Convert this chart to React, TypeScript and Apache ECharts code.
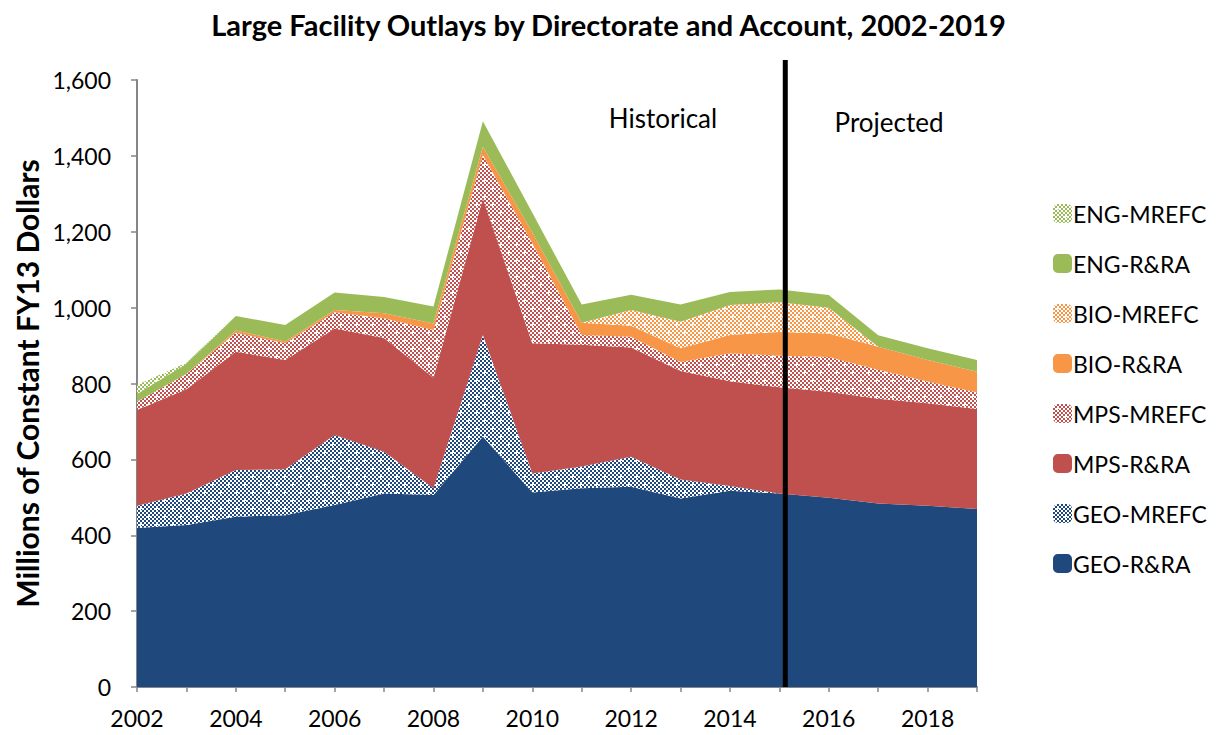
import React, { useEffect, useRef } from "react";
import * as echarts from "echarts";

const years = ["2002","2003","2004","2005","2006","2007","2008","2009","2010","2011","2012","2013","2014","2015","2016","2017","2018","2019"];
const geoRRA = [419,427,449,453,480,510,506,660,513,524,528,497,517,510,499,484,478,469];
const geoMREFC = [59,83,123,121,184,110,18,268,50,57,79,50,13,0,0,0,0,0];
const mpsRRA = [252,275,312,288,281,300,291,360,343,321,288,286,276,280,279,276,270,264];
const mpsMREFC = [22,40,50,44,43,52,126,114,264,26,28,24,74,83,92,76,57,43];
const bioRRA = [0,1,6,5,6,13,17,22,28,32,29,36,48,63,62,61,57,55];
const bioMREFC = [0,0,0,0,0,0,0,0,0,0,42,70,79,78,68,0,0,0];
const engRRA = [20,26,38,43,46,43,45,67,52,48,40,45,34,34,33,30,31,31];
const engMREFC = [24,3,0,0,0,0,0,0,0,0,0,0,0,0,0,0,0,0];
const yTicks = [0, 200, 400, 600, 800, 1000, 1200, 1400, 1600];
const dividerYear = "2015";
const dividerOffset = 0.12;

const BLUE = "#1F497D";
const RED = "#C0504D";
const ORANGE = "#F79646";
const GREEN = "#9BBB59";
const FONT = "Lato, 'Open Sans', sans-serif";

function makePattern(color: string) {
  const c = document.createElement("canvas");
  c.width = 16;
  c.height = 16;
  const ctx = c.getContext("2d")!;
  ctx.fillStyle = "#ffffff";
  ctx.fillRect(0, 0, 16, 16);
  ctx.fillStyle = color;
  for (let y = 0; y < 16; y += 2) {
    for (let x = 0; x < 16; x += 2) {
      if (((x / 2) + (y / 2)) % 2 === 0) ctx.fillRect(x, y, 2, 2);
    }
  }
  ctx.fillStyle = "#ffffff";
  const cross = (cx: number, cy: number) => {
    ctx.fillRect(cx - 2, cy, 5, 1);
    ctx.fillRect(cx, cy - 2, 1, 5);
  };
  cross(4, 4);
  cross(12, 12);
  return { image: c, repeat: "repeat" } as any;
}

export default function App() {
  const ref = useRef<HTMLDivElement>(null);
  useEffect(() => {
    if (!ref.current) return;
    const chart = echarts.init(ref.current, undefined, { renderer: "svg" });
    const defs = [
      { name: "GEO-R&RA", data: geoRRA, color: BLUE as any },
      { name: "GEO-MREFC", data: geoMREFC, color: makePattern(BLUE) },
      { name: "MPS-R&RA", data: mpsRRA, color: RED as any },
      { name: "MPS-MREFC", data: mpsMREFC, color: makePattern(RED) },
      { name: "BIO-R&RA", data: bioRRA, color: ORANGE as any },
      { name: "BIO-MREFC", data: bioMREFC, color: makePattern(ORANGE) },
      { name: "ENG-R&RA", data: engRRA, color: GREEN as any },
      { name: "ENG-MREFC", data: engMREFC, color: makePattern(GREEN) },
    ];
    chart.setOption({
      animation: false,
      title: {
        text: "Large Facility Outlays by Directorate and Account, 2002-2019",
        left: "center",
        top: 5,
        textStyle: { fontFamily: FONT, fontWeight: "bold", fontSize: 29, color: "#000" },
      },
      grid: { left: 137, right: 240, top: 80, bottom: 48 },
      legend: {
        orient: "vertical",
        left: 1048,
        top: 197,
        itemWidth: 19,
        itemHeight: 19,
        itemGap: 27,
        icon: "roundRect",
        textStyle: { fontFamily: FONT, fontSize: 23, color: "#000", padding: [0, 0, 0, -4] },
        data: defs.slice().reverse().map((d) => ({ name: d.name, itemStyle: { color: d.color, borderWidth: 0 } })),
      },
      xAxis: {
        type: "category",
        data: years,
        boundaryGap: false,
        axisLine: { lineStyle: { color: "#868686", width: 2 } },
        axisTick: { show: true, interval: 0, length: 5, lineStyle: { color: "#868686", width: 1.5 } },
        axisLabel: { interval: 1, margin: 19, fontFamily: FONT, fontSize: 23, color: "#000" },
        splitLine: { show: false },
      },
      yAxis: {
        type: "value",
        min: 0,
        max: yTicks[yTicks.length - 1],
        interval: yTicks[1] - yTicks[0],
        name: "Millions of Constant FY13 Dollars",
        nameLocation: "middle",
        nameRotate: 90,
        nameGap: 88,
        nameTextStyle: { fontFamily: FONT, fontWeight: "bold", fontSize: 30, color: "#000" },
        axisLine: { show: true, lineStyle: { color: "#868686", width: 2 } },
        axisTick: { show: true, length: 6, lineStyle: { color: "#868686", width: 1.5 } },
        axisLabel: {
          margin: 26,
          fontFamily: FONT,
          fontSize: 23,
          color: "#000",
          formatter: (v: number) => v.toLocaleString("en-US"),
        },
        splitLine: { show: false },
      },
      series: defs.map((d) => ({
        name: d.name,
        type: "line",
        stack: "total",
        data: d.data,
        color: d.color,
        showSymbol: false,
        symbol: "none",
        lineStyle: { width: 0, opacity: 0 },
        areaStyle: { color: d.color, opacity: 1 },
        emphasis: { disabled: true },
      })),
    });
    const x0 = chart.convertToPixel({ xAxisIndex: 0 }, dividerYear) as number;
    const idx = years.indexOf(dividerYear);
    const x1 = chart.convertToPixel({ xAxisIndex: 0 }, years[idx + 1]) as number;
    const xd = x0 + (x1 - x0) * dividerOffset;
    const yBottom = chart.convertToPixel({ yAxisIndex: 0 }, 0) as number;
    chart.setOption({
      graphic: [
        { type: "line", shape: { x1: xd, y1: 60, x2: xd, y2: yBottom }, style: { stroke: "#000", lineWidth: 5 }, z: 100 },
        { type: "text", x: 663, y: 118, style: { text: "Historical", fontFamily: FONT, fontSize: 26, fill: "#000", align: "center", verticalAlign: "middle" }, z: 100 },
        { type: "text", x: 889, y: 122, style: { text: "Projected", fontFamily: FONT, fontSize: 26, fill: "#000", align: "center", verticalAlign: "middle" }, z: 100 },
      ],
    });
    return () => chart.dispose();
  }, []);
  return <div ref={ref} style={{ width: 1217, height: 735, position: "absolute", left: 0, top: 0 }} />;
}
